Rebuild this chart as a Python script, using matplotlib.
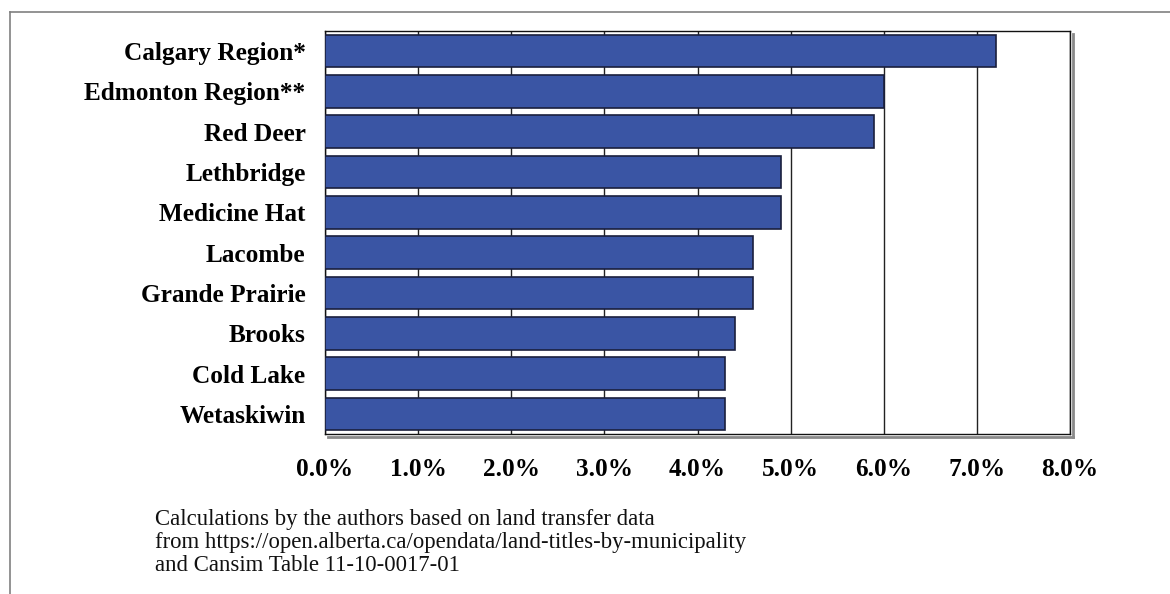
import matplotlib
matplotlib.use("Agg")
import matplotlib.pyplot as plt
from matplotlib.lines import Line2D

categories = ["Calgary Region*", "Edmonton Region**", "Red Deer", "Lethbridge",
              "Medicine Hat", "Lacombe", "Grande Prairie", "Brooks",
              "Cold Lake", "Wetaskiwin"]
values = [7.2, 6.0, 5.9, 4.9, 4.9, 4.6, 4.6, 4.4, 4.3, 4.3]
xticks = [0, 1, 2, 3, 4, 5, 6, 7, 8]
xtick_labels = ["0.0%", "1.0%", "2.0%", "3.0%", "4.0%", "5.0%", "6.0%", "7.0%", "8.0%"]
footnote = ("Calculations by the authors based on land transfer data\n"
            "from https://open.alberta.ca/opendata/land-titles-by-municipality\n"
            "and Cansim Table 11-10-0017-01")

W, H = 1170, 594
fig = plt.figure(figsize=(W / 100, H / 100), dpi=100)
ax = fig.add_axes([325 / W, 1 - 434 / H, (1070 - 325) / W, (434 - 31) / H])

n = len(categories)
ypos = list(range(n))
ax.barh(ypos, values, height=0.81, color="#3A55A4", edgecolor="#1a1f3d",
        linewidth=1.2, zorder=3)
ax.set_ylim(n - 0.5, -0.5)
ax.set_xlim(0, 8)
ax.set_xticks(xticks)
ax.set_xticklabels(xtick_labels)
ax.set_yticks(ypos)
ax.set_yticklabels(categories)
ax.xaxis.grid(True, color="#222222", linewidth=1.0, zorder=0)
ax.set_axisbelow(True)
ax.tick_params(axis="both", length=0)
ax.tick_params(axis="y", pad=14)
ax.tick_params(axis="x", pad=17)
for lab in ax.get_xticklabels() + ax.get_yticklabels():
    lab.set_fontfamily("Liberation Serif")
    lab.set_fontweight("bold")
    lab.set_fontsize(18.2)
for s in ax.spines.values():
    s.set_color("#111111")
    s.set_linewidth(1.0)

# shadow lines on right and bottom of plot area
fig.add_artist(Line2D([1072.5 / W, 1072.5 / W], [1 - 34 / H, 1 - 437 / H],
                      color="#8a8a8a", linewidth=2.0))
fig.add_artist(Line2D([328 / W, 1073 / W], [1 - 437 / H, 1 - 437 / H],
                      color="#8a8a8a", linewidth=2.0))

# outer frame lines
fig.add_artist(Line2D([10 / W, 1.0], [1 - 12 / H, 1 - 12 / H],
                      color="#808080", linewidth=1.2))
fig.add_artist(Line2D([10 / W, 10 / W], [1 - 12 / H, 0.0],
                      color="#808080", linewidth=1.2))

fig.text(155 / W, 1 - 509 / H, footnote, fontfamily="Liberation Serif",
         fontsize=16.4, va="top", ha="left", linespacing=1.13, color="#111111")

fig.savefig("out.png", dpi=100)
